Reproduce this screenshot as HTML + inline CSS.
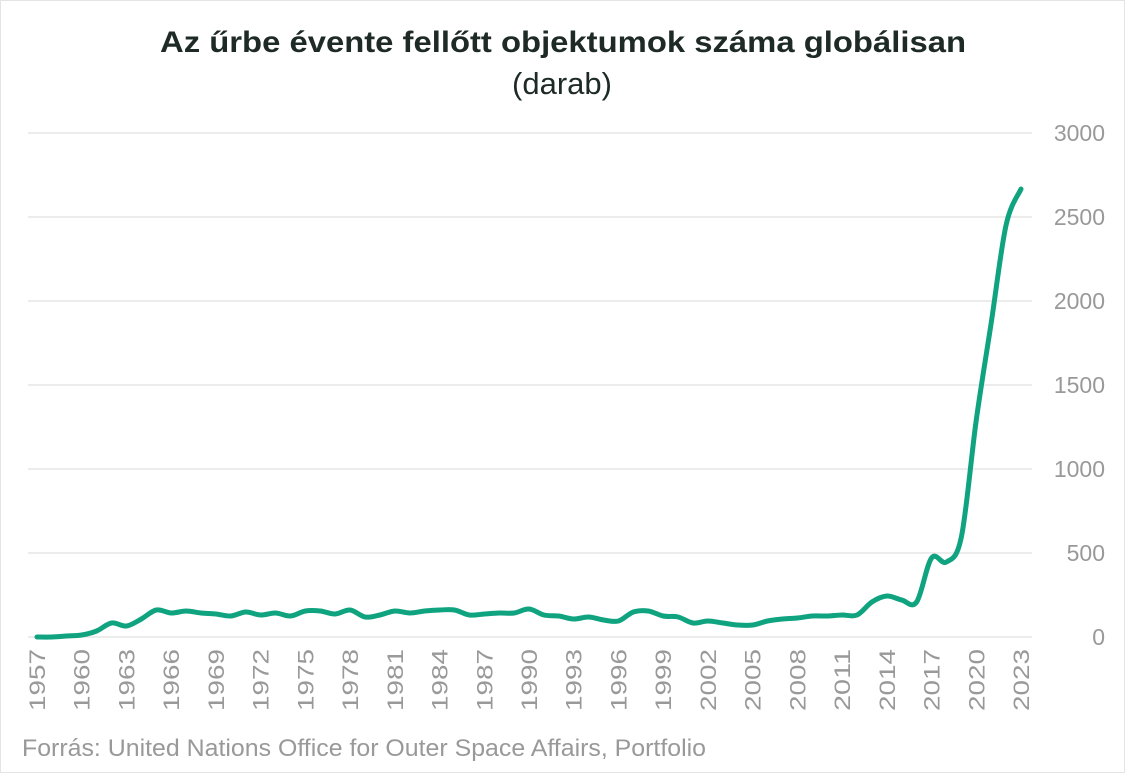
<!DOCTYPE html>
<html><head><meta charset="utf-8"><style>
html,body{margin:0;padding:0;background:#fff}
body{width:1125px;height:773px;overflow:hidden;font-family:"Liberation Sans",sans-serif}
</style></head><body>
<svg id="s" width="1125" height="773" xmlns="http://www.w3.org/2000/svg" font-family="Liberation Sans, sans-serif">
<rect x="0.5" y="0.5" width="1124" height="772" fill="#fff" stroke="#e4e4e4"/>
<text x="160" y="52" font-size="30" font-weight="bold" fill="#1e2a26" textLength="806" lengthAdjust="spacingAndGlyphs">Az űrbe évente fellőtt objektumok száma globálisan</text>
<text x="562" y="94" text-anchor="middle" font-size="31" fill="#1e2a26">(darab)</text>
<g id="grid" stroke="#d9d9d9" stroke-width="1"></g>
<g id="yl" font-size="23" fill="#999"></g>
<g id="xl" font-size="22" fill="#999"></g>
<path id="ln" fill="none" stroke="#0fa37f" stroke-width="5" stroke-linejoin="round" stroke-linecap="round"/>
<text x="22" y="756" font-size="24" fill="#999" textLength="684" lengthAdjust="spacingAndGlyphs">Forrás: United Nations Office for Outer Space Affairs, Portfolio</text>
</svg>
<script>
var ns="http://www.w3.org/2000/svg";
function el(t,a,p,txt){var e=document.createElementNS(ns,t);for(var k in a)e.setAttribute(k,a[k]);if(txt!=null)e.textContent=txt;document.getElementById(p).appendChild(e);}
for(var v=0;v<=3000;v+=500){var y=637-v*84/500;el("line",{x1:28,x2:1032,y1:y,y2:y},"grid");el("text",{x:1105,y:y+8,"text-anchor":"end"},"yl",v);}
function X(yr){return 37+(yr-1957)*984/66;}
for(var yr=1957;yr<=2023;yr+=3){var x=X(yr)+8;el("text",{transform:"translate("+x+",649) rotate(-90)","text-anchor":"end",textLength:62,lengthAdjust:"spacingAndGlyphs"},"xl",yr);}
var py=[637,637,636,635,631,623,626,619,610,613,611,613,614,616,612,615,613,616,611,611,614,610,617,615,611,613,611,610,610,615,614,613,613,609,615,616,619,617,620,621,612,611,616,617,623,621,623,625,625,621,619,618,616,616,615,615,602,596,600,602,558,562,537,420,323,225,189];
var P=py.map(function(y,i){return [X(1957+i),y];});
var d="M"+P[0][0]+","+P[0][1];
for(var i=0;i<P.length-1;i++){var p0=P[Math.max(i-1,0)],p1=P[i],p2=P[i+1],p3=P[Math.min(i+2,P.length-1)];
var c1=[p1[0]+(p2[0]-p0[0])/6,p1[1]+(p2[1]-p0[1])/6],c2=[p2[0]-(p3[0]-p1[0])/6,p2[1]-(p3[1]-p1[1])/6];
d+=" C"+c1[0]+","+c1[1]+" "+c2[0]+","+c2[1]+" "+p2[0]+","+p2[1];}
document.getElementById("ln").setAttribute("d",d);
</script>
</body></html>
